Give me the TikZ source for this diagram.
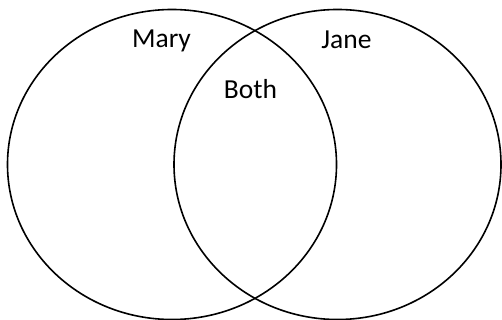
\documentclass[tikz,border=0pt]{standalone}
\usepackage{fontspec}
\setmainfont{Carlito}
\usetikzlibrary{shapes.geometric}
\begin{document}
\begin{tikzpicture}[x=1pt,y=-1pt,
  setring/.style={ellipse,draw=black,line width=1.6pt,inner sep=0pt,outer sep=0pt},
  lbl/.style={anchor=base,inner sep=0pt,font=\fontsize{27.5}{32}\selectfont}]
\useasboundingbox (0,0) rectangle (502,320);
\node[setring,minimum width=329pt,minimum height=310pt] (mary) at (172,164.5) {};
\node[setring,minimum width=327pt,minimum height=310pt] (jane) at (337.5,164.5) {};
\node[lbl] (maryl) at (161.5,47.3) {Mary};
\node[lbl] (janel) at (346.5,48.3) {Jane};
\node[lbl] (both) at (250.5,98.3) {Both};
\end{tikzpicture}
\end{document}
